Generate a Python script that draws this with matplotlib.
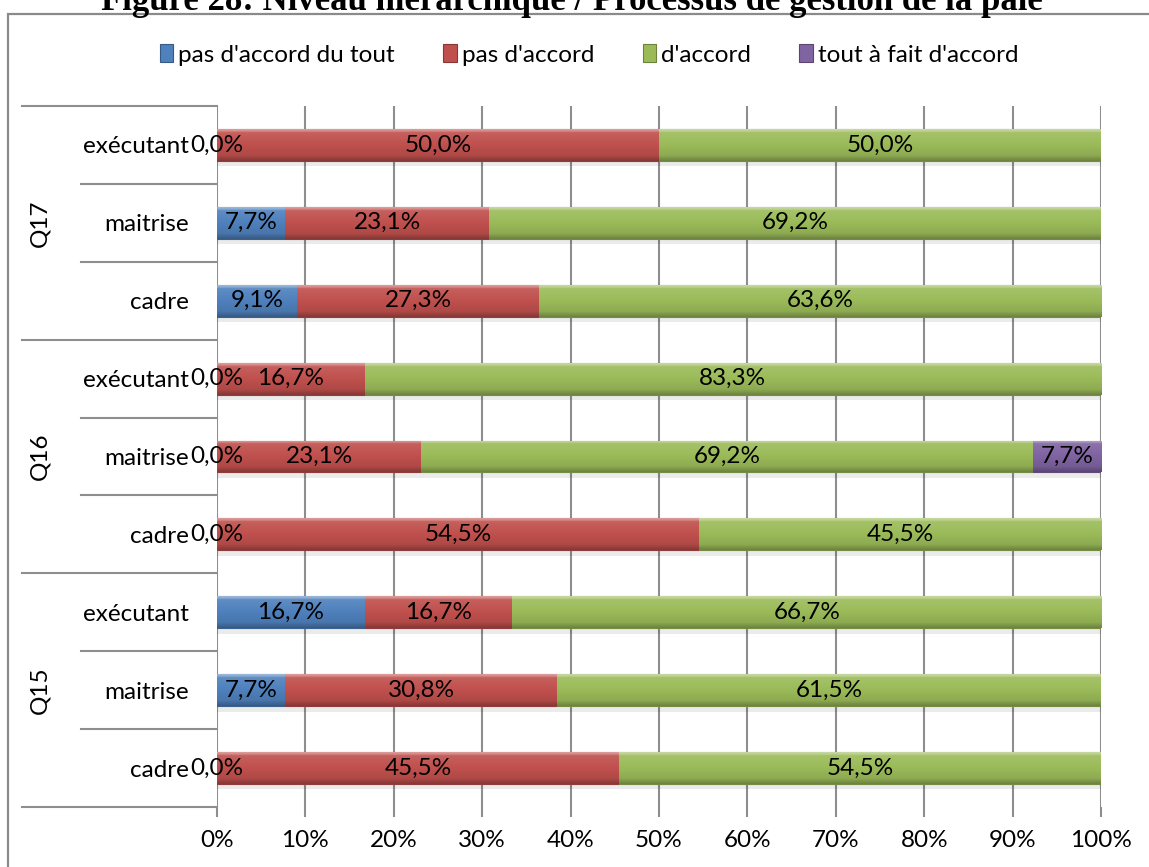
import numpy as np
import matplotlib
matplotlib.use("Agg")
import matplotlib.pyplot as plt
from matplotlib.patches import Patch, Rectangle
from matplotlib.colors import to_rgb
import matplotlib.transforms as mtransforms

plt.rcParams['font.family'] = ['Lato', 'DejaVu Sans']

# Rows from bottom to top
groups = ["Q15", "Q16", "Q17"]
levels = ["cadre", "maitrise", "exécutant"]
series_names = ["pas d'accord du tout", "pas d'accord", "d'accord", "tout à fait d'accord"]

# Percentages per row (Q15 cadre, Q15 maitrise, Q15 exécutant, Q16 ..., Q17 ...)
pas_du_tout = [0.0, 7.7, 16.7, 0.0, 0.0, 0.0, 9.1, 7.7, 0.0]
pas_accord = [45.5, 30.8, 16.7, 54.5, 23.1, 16.7, 27.3, 23.1, 50.0]
accord = [54.5, 61.5, 66.7, 45.5, 69.2, 83.3, 63.6, 69.2, 50.0]
tout_a_fait = [np.nan, np.nan, np.nan, np.nan, 7.7, np.nan, np.nan, np.nan, np.nan]

x_ticks = [0, 10, 20, 30, 40, 50, 60, 70, 80, 90, 100]
x_tick_labels = [f"{v}%" for v in x_ticks]

base_colors = ["#4F81BD", "#C0504D", "#9BBB59", "#8064A2"]

FS = 17.5

W, H = 1149, 867
fig = plt.figure(figsize=(W / 100, H / 100), dpi=100)
fig.patch.set_facecolor("white")

# Outer chart frame
fig.add_artist(Rectangle((8 / W, -0.05), 1.2, 1 - 13.5 / H + 0.05,
                         transform=fig.transFigure, fill=False,
                         edgecolor="#8A8A8A", linewidth=1.6))

# Title (sits partly above the frame)
fig.text(572 / W, 1 - 10 / H,
         "Figure 28: Niveau hiérarchique / Processus de gestion de la paie",
         ha="center", va="baseline", fontsize=25, fontweight="bold",
         family="Liberation Serif")

ax_left, ax_right = 217 / W, 1101 / W
ax_top, ax_bottom = 1 - 106 / H, 1 - 807 / H
ax = fig.add_axes([ax_left, ax_bottom, ax_right - ax_left, ax_top - ax_bottom])
ax.set_facecolor("none")

n_rows = len(pas_accord)
y_pos = np.arange(n_rows)
bar_h = 0.41


def shade(color, f):
    c = np.array(to_rgb(color))
    if f >= 0:
        return c + (1 - c) * f
    return c * (1 + f)


def bevel_gradient(color, n=64):
    t = np.linspace(0, 1, n)  # 0 = top, 1 = bottom
    prof = np.where(t < 0.08, 0.45 - t * 2.5,
                    np.where(t < 0.85, 0.10 - (t - 0.08) * 0.25,
                             -0.12 - (t - 0.85) * 1.2))
    rows = [shade(color, f) for f in prof]
    return np.clip(np.array(rows), 0, 1)[:, None, :]


series = [pas_du_tout, pas_accord, accord, tout_a_fait]
lefts = np.zeros(n_rows)
for si, vals in enumerate(series):
    vals_arr = np.array(vals, dtype=float)
    widths = np.nan_to_num(vals_arr)
    bars = ax.barh(y_pos, widths, left=lefts, height=bar_h,
                   color=base_colors[si], edgecolor=shade(base_colors[si], -0.25),
                   linewidth=0.8, zorder=3)
    grad = bevel_gradient(base_colors[si])
    for i, patch in enumerate(bars.patches):
        w = widths[i]
        if w > 0:
            # soft shadow under the bar
            ax.add_patch(Rectangle((lefts[i], y_pos[i] - bar_h / 2 - 0.07), w, 0.07,
                                   facecolor="#000000", alpha=0.08,
                                   linewidth=0, zorder=2))
            im = ax.imshow(grad, extent=[lefts[i], lefts[i] + w,
                                         y_pos[i] - bar_h / 2, y_pos[i] + bar_h / 2],
                           aspect="auto", origin="upper", interpolation="bilinear",
                           zorder=3.5)
            im.set_clip_path(patch)
        if not np.isnan(vals_arr[i]):
            ax.text(lefts[i] + w / 2, y_pos[i],
                    f"{vals_arr[i]:.1f}%".replace(".", ","),
                    ha="center", va="center", fontsize=FS, color="black", zorder=5)
    lefts = lefts + widths

ax.set_xlim(0, 100)
ax.set_ylim(-0.5, n_rows - 0.5)
ax.set_xticks(x_ticks)
ax.set_xticklabels(x_tick_labels, fontsize=FS)
ax.set_yticks(y_pos)
ax.set_yticklabels(levels * len(groups), fontsize=FS)
ax.tick_params(axis="y", length=0, pad=20)
ax.tick_params(axis="x", direction="out", length=7.5, width=1.5,
               color="#8E8E8E", pad=9)
for s in ax.spines.values():
    s.set_visible(False)
ax.grid(axis="x", color="#8E8E8E", linewidth=1.5, zorder=1)
ax.set_axisbelow(True)

# Category separators left of the plot
blend = mtransforms.blended_transform_factory(ax.transAxes, ax.transData)
axw = 1101 - 217
for yb in [-0.5, 2.5, 5.5, 8.5]:
    ax.plot([(22 - 217) / axw, 0], [yb, yb], transform=blend, color="#8E8E8E",
            linewidth=1.5, clip_on=False)
for yb in [0.5, 1.5, 3.5, 4.5, 6.5, 7.5]:
    ax.plot([(81 - 217) / axw, 0], [yb, yb], transform=blend, color="#8E8E8E",
            linewidth=1.5, clip_on=False)
for gi, g in enumerate(groups):
    ax.text((40 - 217) / axw, gi * 3 + 1, g, transform=blend, rotation=90,
            ha="center", va="center", fontsize=FS)

handles = [Patch(facecolor=c, edgecolor=shade(c, -0.3), linewidth=0.8) for c in base_colors]
fig.legend(handles, series_names, loc="center", bbox_to_anchor=(589 / W, 1 - 55 / H),
           ncol=4, frameon=False, fontsize=FS, handlelength=0.55, handleheight=0.75,
           handletextpad=0.2, columnspacing=2.0)

fig.savefig("out.png", dpi=100)
